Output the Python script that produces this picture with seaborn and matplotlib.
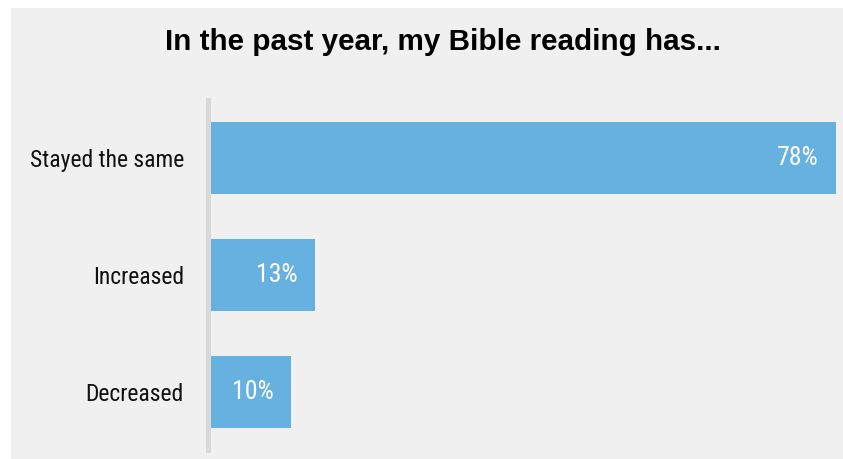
import matplotlib
matplotlib.use("Agg")
import matplotlib.pyplot as plt
import matplotlib.patches as mpatches
import seaborn as sns
import pandas as pd

categories = ["Stayed the same", "Increased", "Decreased"]
values = [78, 13, 10]
value_labels = ["78%", "13%", "10%"]

title = "In the past year, my Bible reading has..."

sns.set_theme(style="white")
plt.rcParams["font.family"] = ["Roboto Condensed", "Liberation Sans", "DejaVu Sans"]

W, H = 843, 459
fig = plt.figure(figsize=(W / 100, H / 100), dpi=100, facecolor="white")

# light gray panel behind the chart
panel = mpatches.Rectangle((11 / W, -0.01), 1.0, (H - 8) / H + 0.01,
                           transform=fig.transFigure,
                           facecolor="#f0f0f0", edgecolor="none", zorder=-5)
fig.add_artist(panel)

ax = fig.add_axes([211 / W, 9 / H, (836 - 211) / W, (450 - 100) / H])
ax.set_facecolor("none")
ax.set_zorder(2)

df = pd.DataFrame({"category": categories, "value": values})
sns.barplot(data=df, x="value", y="category", orient="h", color="#67b1e1",
            saturation=1, width=0.62, linewidth=0, ax=ax)

ax.set_xlim(0, 78)
ax.set_ylim(2.5, -0.5)
ax.set_xlabel("")
ax.set_ylabel("")
ax.set_xticks([])

for s in ["top", "right", "bottom"]:
    ax.spines[s].set_visible(False)
ax.spines["left"].set_color("#d9d9d9")
ax.spines["left"].set_linewidth(3.6)
ax.spines["left"].set_position(("outward", 2.5))

ax.tick_params(axis="y", length=0, pad=17)
for lab in ax.get_yticklabels():
    lab.set_fontsize(17)
    lab.set_color("#111111")

for i, (v, t) in enumerate(zip(values, value_labels)):
    ax.annotate(t, xy=(v, i), xytext=(-12.5, 0), textcoords="offset points",
                ha="right", va="center", color="white", fontsize=18.5)

fig.text(443 / W, 1 - 42 / H, title, ha="center", va="center",
         fontsize=21.3, fontweight="bold", family=["Liberation Sans", "DejaVu Sans"],
         color="#000000")

fig.savefig("out.png", dpi=100, facecolor="white")
